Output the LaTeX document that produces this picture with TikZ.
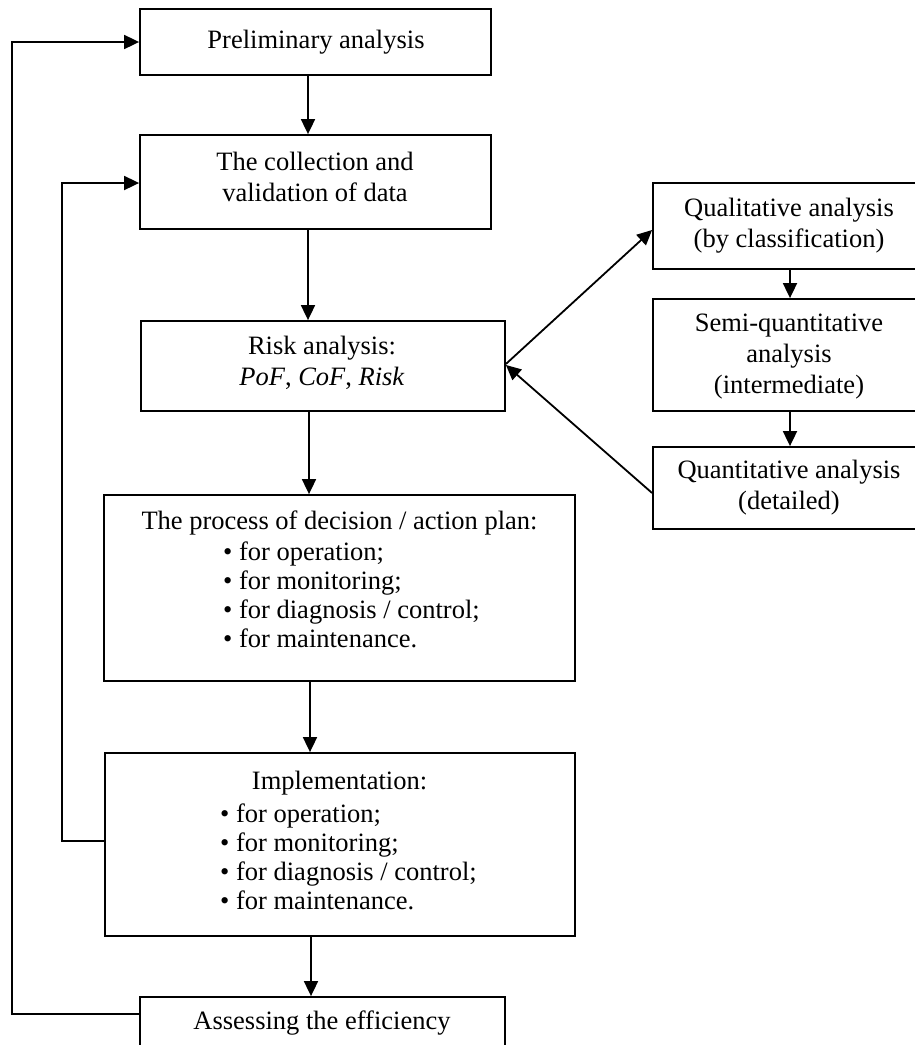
\documentclass[tikz,border=0pt]{standalone}
\usepackage{fontspec}
\setmainfont{Liberation Serif}
\usetikzlibrary{arrows.meta,calc}
\tikzset{
  boxst/.style={draw, line width=1.8pt, rectangle, inner sep=0pt},
  txt/.style={inner sep=0pt, align=center, font=\fontsize{26.5}{31}\selectfont},
  bul/.style={inner sep=0pt, align=left, font=\fontsize{26.5}{29}\selectfont},
  arr/.style={line width=1.8pt, -{Triangle[length=15pt,width=14pt]}},
  ln/.style={line width=1.8pt}
}
\begin{document}
\begin{tikzpicture}[x=1pt,y=-1pt]
\useasboundingbox (0,0) rectangle (914,1045);
% boxes
\node[boxst, minimum width=351pt, minimum height=66pt] (b1) at (315.5,42) {};
\node[boxst, minimum width=351pt, minimum height=94pt] (b2) at (315.5,182) {};
\node[boxst, minimum width=364pt, minimum height=90pt] (b3) at (323,366) {};
\node[boxst, minimum width=471pt, minimum height=186pt] (b4) at (339.5,588) {};
\node[boxst, minimum width=470pt, minimum height=183pt] (b5) at (340,844.5) {};
\node[boxst, minimum width=365pt, minimum height=66pt] (b6) at (322.5,1030) {};
\node[boxst, minimum width=272pt, minimum height=86pt] (q1) at (789,226) {};
\node[boxst, minimum width=272pt, minimum height=112pt] (q2) at (789,355) {};
\node[boxst, minimum width=272pt, minimum height=82pt] (q3) at (789,488) {};
% texts
\node[txt] (t1) at (316,42) {Preliminary analysis};
\node[txt] (t2) at (315,176.5) {The collection and\\validation of data};
\node[txt] (t3) at (322,362.5) {Risk analysis:\\\textit{PoF}, \textit{CoF}, \textit{Risk}};
\node[txt] (tq1) at (789,226) {Qualitative analysis\\(by classification)};
\node[txt] (tq2) at (789,357) {Semi-quantitative\\analysis\\(intermediate)};
\node[txt] (tq3) at (789,488) {Quantitative analysis\\(detailed)};
\node[txt] (t4h) at (339.5,523) {The process of decision / action plan:};
\node[bul, anchor=west] (t4b) at (223,595) {• for operation;\\• for monitoring;\\• for diagnosis / control;\\• for maintenance.};
\node[txt] (t5h) at (339.5,783) {Implementation:};
\node[bul, anchor=west] (t5b) at (220,856.5) {• for operation;\\• for monitoring;\\• for diagnosis / control;\\• for maintenance.};
\node[txt] (t6) at (322,1023) {Assessing the efficiency};
% vertical arrows
\draw[arr] (308,0 |- b1.south) -- (308,0 |- b2.north);
\draw[arr] (308,0 |- b2.south) -- (308,0 |- b3.north);
\draw[arr] (309,0 |- b3.south) -- (309,0 |- b4.north);
\draw[arr] (310,0 |- b4.south) -- (310,0 |- b5.north);
\draw[arr] (311,0 |- b5.south) -- (311,0 |- b6.north);
\draw[arr] (790,0 |- q1.south) -- (790,0 |- q2.north);
\draw[arr] (790,0 |- q2.south) -- (790,0 |- q3.north);
% diagonal arrows
\draw[arr] ([yshift=2pt]b3.east) -- ([yshift=-4pt]q1.west);
\draw[arr] ([yshift=-5pt]q3.west) -- ([yshift=1pt]b3.east);
% feedback loops
\coordinate (c1) at (12,1014);
\coordinate (c2) at (12,42);
\coordinate (c3) at (62,841);
\coordinate (c4) at (62,183);
\draw[arr] (b6.west |- c1) -- (c1) -- (c2) -- (b1.west);
\draw[arr] (b5.west |- c3) -- (c3) -- (c4) -- (b2.west |- c4);
\end{tikzpicture}
\end{document}
